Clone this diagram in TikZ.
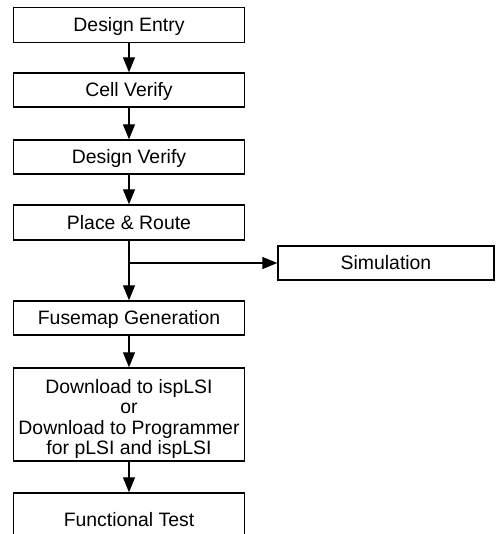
\documentclass[tikz,border=0pt]{standalone}
\usepackage{fontspec}
\setmainfont{Liberation Sans}
\usetikzlibrary{arrows.meta}
\begin{document}
\begin{tikzpicture}[x=1pt,y=1pt,
  box/.style={draw, line width=1.4pt, minimum width=231pt, minimum height=35pt,
    inner sep=0pt, text height=14pt, text depth=0pt,
    font=\fontsize{19.4}{20.5}\selectfont},
  arr/.style={line width=1.4pt, -{Triangle[length=15pt,width=12pt]}}]
\useasboundingbox (0,0) rectangle (499,534);
\clip (0,0) rectangle (499,534);
\node[box] (e)  at (129,509) {Design Entry};
\node[box, minimum height=34pt] (c)  at (129,444) {Cell Verify};
\node[box, minimum height=34pt] (dv) at (129,377) {Design Verify};
\node[box] (pr) at (129,311.5) {Place \& Route};
\node[box, minimum height=34pt] (fg) at (129,216) {Fusemap Generation};
\node[box, minimum height=93pt, align=center, text height=81pt, text depth=0pt] (dl) at (129,119.5) {Download to ispLSI\\or\\Download to Programmer\\for pLSI and ispLSI};
\node[box, minimum height=52pt] (ft) at (129,15) {Functional Test};
\node[box, minimum width=216pt, minimum height=34pt] (sim) at (386,271) {Simulation};
\coordinate (br) at (pr.south |- sim.west);
\draw[arr] (e) -- (c);
\draw[arr] (c) -- (dv);
\draw[arr] (dv) -- (pr);
\draw[arr] (pr) -- (fg);
\draw[arr] (br) -- (sim);
\draw[arr] (fg) -- (dl);
\draw[arr] (dl) -- (ft);
\end{tikzpicture}
\end{document}
